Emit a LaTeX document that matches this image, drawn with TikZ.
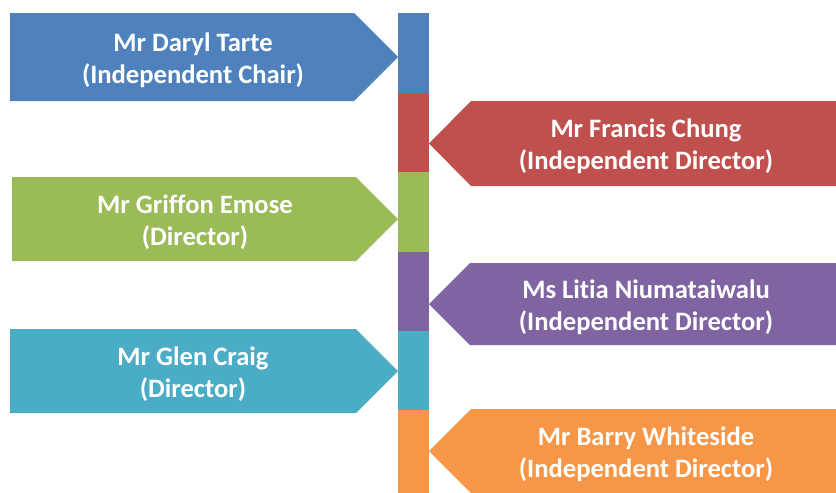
\documentclass[tikz,border=0pt]{standalone}
\usepackage{fontspec}
\setmainfont{Carlito}[Ligatures=NoCommon]
\definecolor{boardblue}{HTML}{4F81BD}
\definecolor{boardred}{HTML}{C0504D}
\definecolor{boardgreen}{HTML}{9BBB59}
\definecolor{boardpurple}{HTML}{8064A2}
\definecolor{boardteal}{HTML}{4BACC6}
\definecolor{boardorange}{HTML}{F79646}
\begin{document}
\begin{tikzpicture}[x=1pt,y=-1pt,
    member/.style={text=white,align=center,inner sep=0pt,font=\bfseries\fontsize{26.6}{32}\selectfont}]
            \useasboundingbox (0,0) rectangle (836,493);
            % centre bar
            \fill[boardblue] (398,13) rectangle (429,93);
            \fill[boardred] (398,93) rectangle (429,172);
            \fill[boardgreen] (398,172) rectangle (429,252);
            \fill[boardpurple] (398,252) rectangle (429,331);
            \fill[boardteal] (398,331) rectangle (429,410);
            \fill[boardorange] (398,410) rectangle (429,493);
            % left side
            \fill[boardblue] (10,13) -- (354,13) -- (398,57) -- (354,101) -- (10,101) -- cycle;
            \fill[boardgreen] (12,177) -- (356,177) -- (398,219) -- (356,261) -- (12,261) -- cycle;
            \fill[boardteal] (10,329) -- (356,329) -- (398,371) -- (356,413) -- (10,413) -- cycle;
            % right side
            \fill[boardred] (836,101) -- (471,101) -- (429,143.5) -- (471,186) -- (836,186) -- cycle;
            \fill[boardpurple] (836,263) -- (470,263) -- (429,304) -- (470,345) -- (836,345) -- cycle;
            \fill[boardorange] (836,409) -- (471,409) -- (429,451) -- (471,493) -- (836,493) -- cycle;
            % names
            \node[member] (tarte) at (193,60) {Mr Daryl Tarte\\(Independent Chair)};
            \node[member] (chung) at (646,146.5) {Mr Francis Chung\\(Independent Director)};
            \node[member] (emose) at (195,222) {Mr Griffon Emose\\(Director)};
            \node[member] (niumataiwalu) at (646,307) {Ms Litia Niumataiwalu\\(Independent Director)};
            \node[member] (craig) at (193,374) {Mr Glen Craig\\(Director)};
            \node[member] (whiteside) at (646,454) {Mr Barry Whiteside\\(Independent Director)};
\end{tikzpicture}
\end{document}
